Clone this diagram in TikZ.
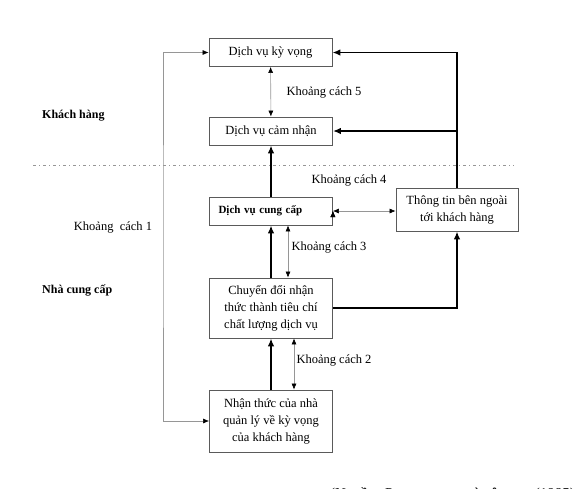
\documentclass[tikz,border=0pt]{standalone}
\usepackage{fontspec}
\setmainfont{Liberation Serif}
\usepackage{xcolor}
\definecolor{gapcolor}{RGB}{150, 150, 150}
\definecolor{boxcolor}{RGB}{90, 90, 90}
\usepackage{tikz}
\usetikzlibrary{arrows.meta, calc}

\tikzset{
  box/.style={draw=boxcolor, line width=0.8pt, minimum width=123pt,
    minimum height=28pt, align=center, inner sep=2pt,
    font=\fontsize{12.5}{17}\selectfont},
  lbl/.style={font=\fontsize{12.5}{15}\selectfont, inner sep=0pt},
  flow/.style={-{Latex[length=8pt,width=6.5pt]}, line width=1.8pt},
  gap/.style={{Latex[length=6pt,width=5pt,black]}-{Latex[length=6pt,width=5pt,black]},
    draw=gapcolor, line width=0.6pt},
}

\begin{document}
\begin{tikzpicture}[x=1pt, y=-1pt]
  \useasboundingbox (0,0) rectangle (578,488);

  % boxes
  \node[box] (kyvong) at (270.5,52.5) {Dịch vụ kỳ vọng};
  \node[box] (camnhan) at (271,131) {Dịch vụ cảm nhận};
  \node[box, text width=105pt, align=left, inner xsep=9pt,
    font=\bfseries\fontsize{11}{14}\selectfont] (cungcap) at (271,211) {Dịch vụ cung cấp};
  \node[box, minimum width=122pt, minimum height=43pt] (thongtin) at (457,209.5)
    {Thông tin bên ngoài\\tới khách hàng};
  \node[box, minimum height=60pt] (chuyendoi) at (271,308)
    {Chuyển đổi nhận\\thức thành tiêu chí\\chất lượng dịch vụ};
  \node[box, minimum height=62pt] (nhanthuc) at (271,421)
    {Nhận thức của nhà\\quản lý về kỳ vọng\\của khách hàng};

  % labels
  \node[lbl] (kc5) at (324,92) {Khoảng cách 5};
  \node[lbl] (kc4) at (349,180) {Khoảng cách 4};
  \node[lbl] (kc3) at (329,247) {Khoảng cách 3};
  \node[lbl] (kc2) at (334,360) {Khoảng cách 2};
  \node[lbl] (kc1) at (113,227) {Khoảng\ \ cách 1};
  \node[lbl, font=\bfseries\fontsize{12}{15}\selectfont, anchor=west] (khachhang) at (42,116) {Khách hàng};
  \node[lbl, font=\bfseries\fontsize{12}{15}\selectfont, anchor=west] (nhacungcap) at (42,290) {Nhà cung cấp};
  \node[lbl, anchor=base west, font=\fontsize{15}{17}\selectfont] (nguon) at (330,498)
    {(Nguồn: Parasuraman và cộng sự (1985)};

  % separator
  \coordinate (sepL) at (33,165);
  \coordinate (sepR) at (514,165);
  \draw[gapcolor, line width=0.6pt, dash pattern=on 3pt off 3pt on 1pt off 3pt] (sepL) -- (sepR);

  % main flows
  \path[flow]
    (nhanthuc) edge (chuyendoi)
    (chuyendoi) edge (cungcap)
    (cungcap) edge (camnhan)
    ;
  \draw[flow] (chuyendoi.east) -| (thongtin.south);
  \draw[flow] (thongtin.north) |- (kyvong.east);
  \draw[flow] (thongtin.north) |- (camnhan.east);

  % gaps
  \coordinate (kc1line) at (163,236);
  \draw[gap] (kyvong.west) -| (kc1line) |- (nhanthuc.west);
  \path[gap]
    (kyvong) edge (camnhan)
    ([xshift=17pt]cungcap.south) edge ([xshift=17pt]chuyendoi.north)
    ([xshift=23pt]chuyendoi.south) edge ([xshift=23pt]nhanthuc.north)
    (cungcap.east) edge (cungcap.east -| thongtin.west)
    ;
\end{tikzpicture}
\end{document}
